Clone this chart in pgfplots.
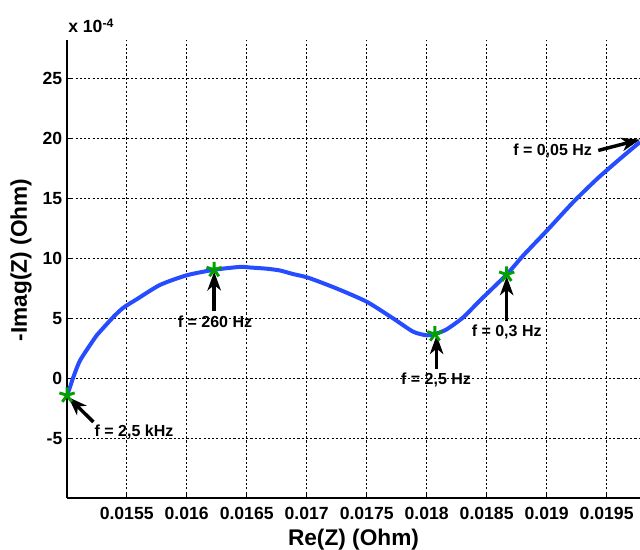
\documentclass[border=0pt]{standalone}
\usepackage{fontspec}
\setmainfont{Liberation Sans}
\usepackage{pgfplots}
\pgfplotsset{compat=1.18}
\usetikzlibrary{arrows.meta}
\definecolor{zblue}{RGB}{38,76,255}
\definecolor{zgreen}{RGB}{0,160,0}

\begin{document}
\begin{tikzpicture}
\begin{axis}[
  scale only axis, width=429.75pt, height=343.5pt,
  xmin=0.0150025, xmax=0.019778,
  ymin=-9.95, ymax=28.2,
  axis lines*=left,
  axis line style={line width=1pt, -},
  tick align=inside, major tick length=4pt,
  tick style={black, line width=0.8pt},
  grid=major,
  major grid style={black, line width=0.5pt, dash pattern=on 1.6pt off 1.6pt},
  xtick={0.0155,0.016,0.0165,0.017,0.0175,0.018,0.0185,0.019,0.0195},
  xticklabels={0.0155,0.016,0.0165,0.017,0.0175,0.018,0.0185,0.019,0.0195},
  scaled x ticks=false,
  ytick={-5,0,5,10,15,20,25},
  /pgf/number format/assume math mode=true,
  ticklabel style={font=\fontsize{13.2}{15}\selectfont\bfseries},
  xticklabel style={yshift=-3.5pt},
  xlabel={Re(Z) (Ohm)},
  ylabel={-Imag(Z) (Ohm)},
  xlabel style={font=\fontsize{17}{20}\selectfont\bfseries, at={(axis description cs:0.5,-0.09)}, anchor=center},
  ylabel style={font=\fontsize{17}{20}\selectfont\bfseries, at={(axis description cs:-0.08,0.52)}, anchor=center},
  clip mode=individual,
]
% Nyquist curve (y in units of 1e-4 Ohm)
\addplot[color=zblue, line width=3pt, smooth, tension=0.4] coordinates {
  (0.015003,-1.4) (0.015028,-0.7) (0.015055,0.1) (0.015111,1.5)
  (0.015222,3.2) (0.015250,3.6) (0.015386,5.1) (0.015472,5.9)
  (0.015583,6.6) (0.015778,7.8) (0.016000,8.6) (0.016229,9.06)
  (0.016444,9.3) (0.016528,9.25) (0.016667,9.15) (0.016778,9.0)
  (0.016888,8.7) (0.017013,8.4) (0.017250,7.5) (0.017500,6.4)
  (0.017722,5.0) (0.017888,3.9) (0.018000,3.6) (0.018069,3.7)
  (0.018167,4.1) (0.018305,5.1) (0.018444,6.5) (0.018667,8.67)
  (0.018805,10.25) (0.019000,12.3) (0.019222,14.7) (0.019417,16.6)
  (0.019611,18.3) (0.019778,19.7)
};

\tikzset{ann/.style={line width=2.6pt, -{Stealth[length=14pt,width=10pt,inset=4pt]}},
         lab/.style={font=\fontsize{12}{14}\selectfont\bfseries, inner sep=1pt}}
\draw[ann] (axis cs:0.015222,-3.62) -- (axis cs:0.015014,-1.55);
\node[lab] at (axis cs:0.015561,-4.45) {f = 2,5 kHz};
\draw[ann] (axis cs:0.016229,5.6) -- (axis cs:0.016229,8.9);
\node[lab] at (axis cs:0.016236,4.7) {f = 260 Hz};
\draw[ann] (axis cs:0.018083,0.8) -- (axis cs:0.018083,3.6);
\node[lab] at (axis cs:0.018078,-0.1) {f = 2,5 Hz};
\draw[ann] (axis cs:0.018667,4.8) -- (axis cs:0.018667,8.5);
\node[lab] at (axis cs:0.018667,3.9) {f = 0,3 Hz};
\draw[ann] (axis cs:0.019430,19.0) -- (axis cs:0.019778,19.9);
\node[lab] at (axis cs:0.019050,18.94) {f = 0,05 Hz};

% marked frequencies
\addplot[only marks, mark=star, mark size=6pt, color=zgreen, line width=2.2pt] coordinates {
  (0.015003,-1.4) (0.016229,9.06) (0.018069,3.7) (0.018667,8.67)
};

\node[anchor=base west, font=\fontsize{13.2}{15}\selectfont\bfseries, inner sep=0pt, yshift=5.25pt, xshift=0.75pt]
  at (rel axis cs:0,1) {x 10\textsuperscript{-4}};

\coordinate (ll) at (rel axis cs:0,0);
\coordinate (ur) at (rel axis cs:1,1);
\end{axis}
\pgfresetboundingbox
\path ([shift={(-50.25pt,-39pt)}]ll) rectangle ([shift={(0pt,30pt)}]ur);
\end{tikzpicture}
\end{document}
